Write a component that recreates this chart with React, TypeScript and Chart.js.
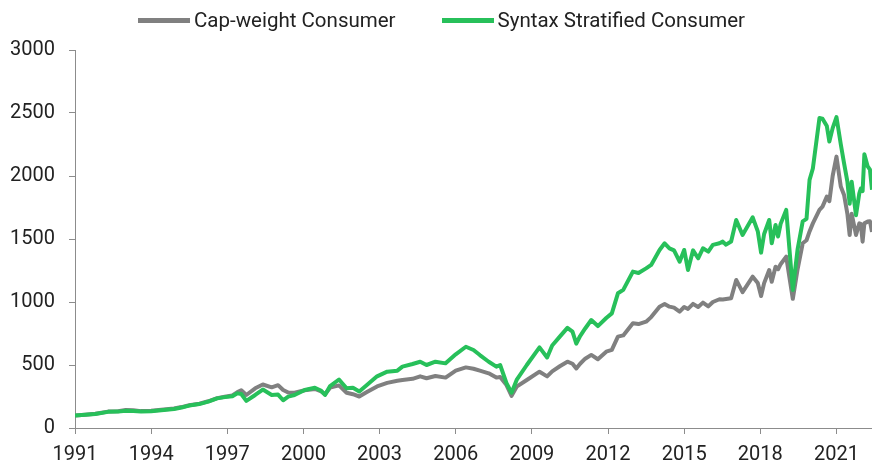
import React, { useEffect, useRef } from "react";
import { Chart, registerables } from "chart.js";

Chart.register(...registerables);

// Decimal-year positions of the observations (shared by both series)
const dates: number[] = [
  1991.0, 1991.4, 1991.8, 1992.3, 1992.7, 1993.0, 1993.3, 1993.6, 1994.0, 1994.5,
  1994.9, 1995.2, 1995.5, 1995.9, 1996.25, 1996.6, 1996.9, 1997.2, 1997.4, 1997.55,
  1997.75, 1998.1, 1998.4, 1998.75, 1999.0, 1999.2, 1999.4, 1999.65, 2000.05, 2000.45,
  2000.7, 2000.85, 2001.05, 2001.4, 2001.7, 2001.95, 2002.2, 2002.5, 2002.9, 2003.3,
  2003.7, 2003.9, 2004.3, 2004.6, 2004.85, 2005.2, 2005.6, 2006.0, 2006.4, 2006.7,
  2006.95, 2007.3, 2007.6, 2007.75, 2008.0, 2008.2, 2008.4, 2008.8, 2009.3, 2009.6,
  2009.8, 2010.1, 2010.4, 2010.6, 2010.75, 2010.9, 2011.1, 2011.34, 2011.6, 2011.93,
  2012.15, 2012.39, 2012.6, 2012.98, 2013.2, 2013.5, 2013.7, 2014.03, 2014.23, 2014.42,
  2014.6, 2014.82, 2015.0, 2015.15, 2015.35, 2015.55, 2015.74, 2015.95, 2016.13, 2016.39,
  2016.52, 2016.65, 2016.85, 2017.05, 2017.3, 2017.7, 2017.9, 2018.03, 2018.15, 2018.35,
  2018.45, 2018.6, 2018.7, 2018.8, 2019.02, 2019.28, 2019.47, 2019.67, 2019.82, 2019.94,
  2020.07, 2020.33, 2020.45, 2020.62, 2020.72, 2020.85, 2021.0, 2021.17, 2021.3, 2021.43,
  2021.52, 2021.6, 2021.77, 2021.9, 2021.96, 2022.03, 2022.1, 2022.23, 2022.32, 2022.4,
];

const capWeight: number[] = [
  100, 106, 113, 130, 133, 143, 140, 134, 136, 146,
  155, 166, 180, 193, 212, 237, 248, 258, 285, 300,
  262, 315, 345, 323, 340, 302, 282, 280, 300, 310,
  290, 268, 320, 338, 280, 268, 250, 285, 330, 358,
  375, 381, 390, 410, 395, 413, 400, 455, 481, 470,
  455, 434, 400, 405, 341, 255, 328, 381, 447, 410,
  450, 490, 526, 510, 473, 510, 550, 580, 546, 606,
  620, 725, 735, 831, 825, 844, 880, 963, 984, 963,
  955, 924, 960, 945, 985, 960, 995, 965, 1000, 1022,
  1020, 1024, 1030, 1175, 1078, 1201, 1150, 1048, 1150, 1254,
  1160, 1280, 1260, 1300, 1360, 1025, 1262, 1466, 1490, 1560,
  1624, 1731, 1757, 1836, 1800, 2000, 2154, 1916, 1850, 1700,
  1532, 1700, 1532, 1624, 1620, 1479, 1624, 1638, 1640, 1556,
];

const stratified: number[] = [
  100, 105, 111, 128, 130, 137, 134, 130, 133, 143,
  151, 163, 178, 190, 209, 235, 245, 252, 275, 270,
  215, 262, 305, 262, 265, 220, 249, 262, 302, 320,
  295, 262, 333, 385, 315, 320, 290, 341, 410, 447,
  455, 487, 508, 526, 500, 526, 513, 585, 645, 619,
  579, 526, 487, 500, 355, 280, 381, 500, 640, 560,
  655, 725, 795, 765, 670, 730, 790, 857, 809, 873,
  910, 1069, 1096, 1241, 1230, 1267, 1294, 1413, 1466, 1426,
  1410, 1320, 1413, 1254, 1410, 1347, 1426, 1400, 1453, 1466,
  1479, 1455, 1480, 1651, 1532, 1672, 1561, 1392, 1540, 1651,
  1466, 1611, 1520, 1620, 1731, 1096, 1420, 1640, 1660, 1969,
  2060, 2460, 2455, 2397, 2273, 2380, 2468, 2252, 2100, 1955,
  1780, 1955, 1688, 1863, 1900, 1880, 2173, 2076, 2050, 1890,
];

const xTickYears: number[] = [1991, 1994, 1997, 2000, 2003, 2006, 2009, 2012, 2015, 2018, 2021];
const seriesNames: string[] = ["Cap-weight Consumer", "Syntax Stratified Consumer"];
const seriesColors: string[] = ["#808080", "#27c05a"];

const FONT = "Roboto, 'Noto Sans', sans-serif";

export default function App() {
  const canvasRef = useRef<HTMLCanvasElement | null>(null);

  useEffect(() => {
    document.body.style.margin = "0";
    const canvas = canvasRef.current;
    if (!canvas) return;
    const chart = new Chart(canvas, {
      type: "line",
      data: {
        datasets: [
          {
            label: seriesNames[0],
            data: dates.map((d, i) => ({ x: d, y: capWeight[i] })),
            borderColor: seriesColors[0],
            backgroundColor: seriesColors[0],
            borderWidth: 4,
            pointRadius: 0,
            tension: 0,
            borderJoinStyle: "round",
            order: 1,
          },
          {
            label: seriesNames[1],
            data: dates.map((d, i) => ({ x: d, y: stratified[i] })),
            borderColor: seriesColors[1],
            backgroundColor: seriesColors[1],
            borderWidth: 4,
            pointRadius: 0,
            tension: 0,
            borderJoinStyle: "round",
            order: 0,
          },
        ],
      },
      options: {
        responsive: false,
        animation: false,
        layout: { padding: { top: 50, left: 0, right: 0, bottom: 0 } },
        plugins: {
          legend: { display: false },
          tooltip: { enabled: false },
        },
        scales: {
          x: {
            type: "linear",
            min: 1991,
            max: 2022.4,
            afterBuildTicks: (scale: any) => {
              scale.ticks = xTickYears.map((v) => ({ value: v }));
            },
            afterFit: (scale: any) => {
              scale.height = 35;
            },
            ticks: {
              autoSkip: false,
              maxRotation: 0,
              padding: 9,
              color: "#222",
              font: { family: FONT, size: 20 },
              callback: (v: any) => String(v),
            },
            grid: {
              display: true,
              drawOnChartArea: false,
              drawTicks: true,
              tickLength: 6,
              color: "#8c8c8c",
            },
            border: { display: true, color: "#8c8c8c", width: 1 },
          },
          y: {
            min: 0,
            max: 3000,
            afterFit: (scale: any) => {
              scale.width = 75;
            },
            ticks: {
              stepSize: 500,
              padding: 14,
              color: "#222",
              font: { family: FONT, size: 20 },
              callback: (v: any) => String(v),
            },
            grid: {
              display: true,
              drawOnChartArea: false,
              drawTicks: true,
              tickLength: 6,
              color: "#8c8c8c",
            },
            border: { display: true, color: "#8c8c8c", width: 1 },
          },
        },
      },
    });
    return () => chart.destroy();
  }, []);

  const legendItem = (i: number, marginRight: number) => (
    <div style={{ display: "flex", alignItems: "center", marginRight }}>
      <div style={{ width: 52, height: 5, background: seriesColors[i], marginRight: 4 }} />
      <span style={{ fontFamily: FONT, fontSize: 20.5, color: "#222", whiteSpace: "nowrap" }}>
        {seriesNames[i]}
      </span>
    </div>
  );

  return (
    <div style={{ position: "relative", width: 872, height: 463 }}>
      <canvas ref={canvasRef} width={872} height={463} style={{ display: "block" }} />
      <div
        style={{
          position: "absolute",
          left: 138,
          top: 8,
          display: "flex",
          alignItems: "center",
          lineHeight: "24px",
        }}
      >
        {legendItem(0, 46)}
        {legendItem(1, 0)}
      </div>
    </div>
  );
}
